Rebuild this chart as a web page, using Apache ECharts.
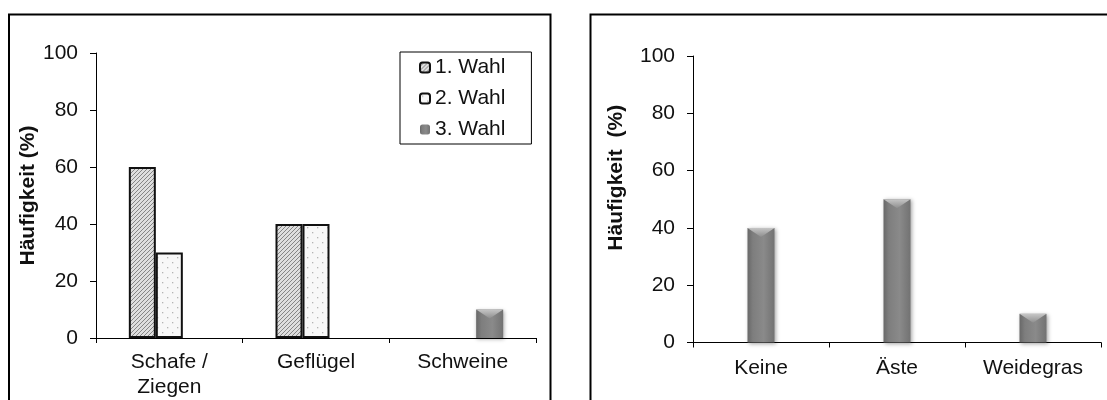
<!DOCTYPE html>
<html>
<head>
<meta charset="utf-8">
<script src="https://cdn.jsdelivr.net/npm/echarts@6/dist/echarts.min.js"></script>
<style>
  html, body { margin: 0; padding: 0; background: #fff; }
  #chart { width: 1107px; height: 400px; }
</style>
</head>
<body>
<div id="chart"></div>
<script>
// Left panel: preferred animal group, choices 1-3
const animalCategories = ['Schafe /\nZiegen', 'Geflügel', 'Schweine'];
const choiceNames = ['1. Wahl', '2. Wahl', '3. Wahl'];
const choice1 = [60, 40, '-'];
const choice2 = [30, 40, '-'];
const choice3 = ['-', '-', 10];

// Right panel: additional feed
const feedCategories = ['Keine', 'Äste', 'Weidegras'];
const feedValues = [40, 50, 10];

const yTicks = { min: 0, max: 100, interval: 20 };
const yTitleLeft = 'Häufigkeit (%)';
const yTitleRight = 'Häufigkeit  (%)';

const FONT = '"Liberation Sans", Arial, sans-serif';
const TXT = '#111';

// Fill patterns
function hatchPattern() {
  const s = 4;
  const c = document.createElement('canvas');
  c.width = s; c.height = s;
  const g = c.getContext('2d');
  g.fillStyle = '#dedede';
  g.fillRect(0, 0, s, s);
  g.strokeStyle = '#858585';
  g.lineWidth = 1;
  g.beginPath();
  g.moveTo(-1, s + 1); g.lineTo(s + 1, -1);
  g.moveTo(-1, 1); g.lineTo(1, -1);
  g.moveTo(s - 1, s + 1); g.lineTo(s + 1, s - 1);
  g.stroke();
  return { image: c, repeat: 'repeat' };
}
function dotPattern() {
  const s = 10;
  const c = document.createElement('canvas');
  c.width = s; c.height = s;
  const g = c.getContext('2d');
  g.fillStyle = '#f8f8f8';
  g.fillRect(0, 0, s, s);
  g.fillStyle = '#b4b4b4';
  g.fillRect(2, 2, 1.3, 1.3);
  g.fillRect(7, 7, 1.3, 1.3);
  return { image: c, repeat: 'repeat' };
}
const greyBar = {
  type: 'linear', x: 0, y: 0, x2: 1, y2: 0,
  colorStops: [
    { offset: 0, color: '#686868' },
    { offset: 0.2, color: '#7e7e7e' },
    { offset: 0.6, color: '#8a8a8a' },
    { offset: 1, color: '#727272' }
  ]
};
const bevelFill = {
  type: 'linear', x: 0, y: 0, x2: 0, y2: 1,
  colorStops: [
    { offset: 0, color: '#c6c6c6' },
    { offset: 1, color: '#8e8e8e' }
  ]
};
const greyItem = {
  color: greyBar,
  shadowBlur: 4,
  shadowColor: 'rgba(0,0,0,0.35)',
  shadowOffsetX: 1,
  shadowOffsetY: 1
};
const outlined = (fill) => ({ color: fill, borderColor: '#111', borderWidth: 2 });

function valueAxis(gridIndex, title, nameGap, namePadding) {
  return {
    type: 'value', gridIndex, ...yTicks,
    axisLine: { show: true, lineStyle: { color: '#000', width: 1 } },
    axisTick: { show: true, length: 6, lineStyle: { color: '#000' } },
    splitLine: { show: false },
    axisLabel: { color: TXT, fontFamily: FONT, fontSize: 21, margin: 18 },
    name: title, nameLocation: 'middle', nameGap,
    nameTextStyle: { color: TXT, fontFamily: FONT, fontSize: 21, fontWeight: 'bold', padding: namePadding }
  };
}
function categoryAxis(gridIndex, data, margin) {
  return {
    type: 'category', gridIndex, data,
    axisLine: { show: true, lineStyle: { color: '#000', width: 1 } },
    axisTick: { show: true, length: 5, lineStyle: { color: '#000' } },
    axisLabel: { color: TXT, fontFamily: FONT, fontSize: 21, lineHeight: 25, margin, interval: 0 }
  };
}

const chart = echarts.init(document.getElementById('chart'), null, { renderer: 'canvas' });
chart.setOption({
  animation: false,
  backgroundColor: '#fff',
  graphic: [
    { type: 'rect', shape: { x: 9, y: 14.5, width: 541.5, height: 420 },
      style: { fill: 'none', stroke: '#000', lineWidth: 2 }, silent: true },
    { type: 'rect', shape: { x: 590.5, y: 14.5, width: 560, height: 420 },
      style: { fill: 'none', stroke: '#000', lineWidth: 2 }, silent: true }
  ],
  legend: {
    data: choiceNames,
    orient: 'vertical',
    left: 400, top: 52,
    padding: [5, 26, 4, 19],
    itemGap: 10,
    itemWidth: 10, itemHeight: 10,
    backgroundColor: '#fff',
    borderColor: '#000', borderWidth: 1,
    textStyle: { color: TXT, fontFamily: FONT, fontSize: 21, lineHeight: 20 }
  },
  grid: [
    { left: 96, right: 571, top: 53, bottom: 58 },
    { left: 693, right: 6, top: 56, bottom: 57.5 }
  ],
  xAxis: [categoryAxis(0, animalCategories, 12), categoryAxis(1, feedCategories, 13)],
  yAxis: [valueAxis(0, yTitleLeft, 56, 0), valueAxis(1, yTitleRight, 66, [0, 0, 0, 43])],
  series: [
    { name: choiceNames[0], type: 'bar', xAxisIndex: 0, yAxisIndex: 0, data: choice1,
      barWidth: 27, barGap: '0%', itemStyle: outlined(hatchPattern()) },
    { name: choiceNames[1], type: 'bar', xAxisIndex: 0, yAxisIndex: 0, data: choice2,
      barWidth: 27, barGap: '0%', itemStyle: outlined(dotPattern()) },
    { name: choiceNames[2], type: 'bar', xAxisIndex: 0, yAxisIndex: 0, data: choice3,
      barWidth: 27, barGap: '0%', itemStyle: greyItem },
    { name: 'bevel-left', type: 'pictorialBar', xAxisIndex: 0, yAxisIndex: 0, data: choice3,
      symbol: 'path://M0,0L10,0L5,4Z', symbolSize: [27, 9], symbolPosition: 'end',
      symbolOffset: ['100%', 0], itemStyle: { color: bevelFill }, z: 5, silent: true },
    { name: 'Futter', type: 'bar', xAxisIndex: 1, yAxisIndex: 1, data: feedValues,
      barWidth: 27, itemStyle: greyItem },
    { name: 'bevel-right', type: 'pictorialBar', xAxisIndex: 1, yAxisIndex: 1, data: feedValues,
      symbol: 'path://M0,0L10,0L5,4Z', symbolSize: [27, 9], symbolPosition: 'end',
      itemStyle: { color: bevelFill }, z: 5, silent: true }
  ]
});
</script>
</body>
</html>
